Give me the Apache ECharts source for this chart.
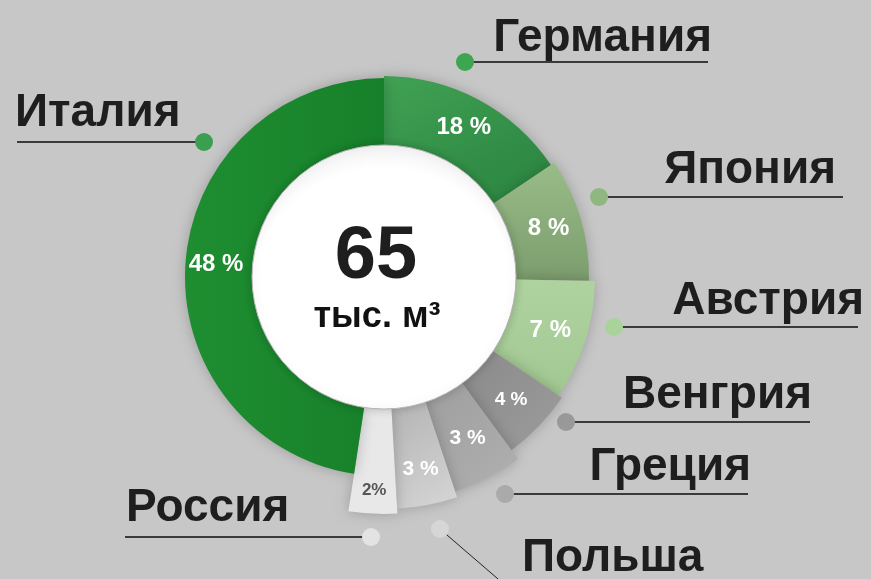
<!DOCTYPE html>
<html>
<head>
<meta charset="utf-8">
<script src="https://cdn.jsdelivr.net/npm/echarts@6/dist/echarts.min.js"></script>
<style>
  html, body { margin: 0; padding: 0; background: #c7c7c7; }
  #chart { width: 871px; height: 579px; }
</style>
</head>
<body>
<div id="chart"></div>
<script>
// данные (по часовой стрелке от 12 часов)
var countries = ['Германия', 'Япония', 'Австрия', 'Венгрия', 'Греция', 'Польша', 'Россия', 'Италия'];
var shares = [15.6, 9.7, 9.2, 5.4, 5.0, 4.2, 3.3, 47.6];   // доля круга, как нарисовано
var pctLabels = ['18 %', '8 %', '7 %', '4 %', '3 %', '3 %', '2%', '48 %'];
var total = '65';
var unit = 'тыс. м³';

// оформление
var center = [384, 277];
var innerR = 132;
var outerR = [201, 205, 211, 215, 226, 232, 237, 199];
function grad(x, y, x2, y2, c1, c2) {
    return new echarts.graphic.LinearGradient(x, y, x2, y2, [{ offset: 0, color: c1 }, { offset: 1, color: c2 }]);
}
var fills = [
    grad(0, 0, 0.4, 1, '#40a153', '#2f8a44'),
    grad(0, 0, 0, 1, '#98bc88', '#7c9d6d'),
    grad(0, 0, 0, 1, '#afd39f', '#a2c892'),
    grad(0, 0, 1, 1, '#8a8a8a', '#9c9c9c'),
    grad(0, 0, 1, 1, '#9e9e9e', '#b0b0b0'),
    grad(0, 0, 1, 1, '#b4b4b4', '#d6d6d6'),
    '#e8e8e8',
    grad(0, 0, 1, 0, '#1e8e31', '#17802a')
];
var pctSize = [24, 24, 24, 19, 21, 21, 17, 24];
var pctColor = ['#fff', '#fff', '#fff', '#fff', '#fff', '#fff', '#555', '#fff'];
var pctShift = [[0, 0], [0, 0], [0, 0], [0, 0], [0, 0], [2, 10], [-1, 26], [0, 0]];
var dotColors = ['#3da650', '#8fb77f', '#a9d39a', '#999999', '#aaaaaa', '#d6d6d6', '#e3e3e3', '#3a9f4e'];
// подписи стран: точка, конец линии, базовая линия текста
var callouts = {
    'Германия': { dot: [465, 62], end: [708, 62], text: [712, 54], align: 'right' },
    'Италия':   { dot: [204, 142], end: [17, 142], text: [15, 129], align: 'left' },
    'Япония':   { dot: [599, 197], end: [843, 197], text: [836, 186], align: 'right' },
    'Австрия':  { dot: [614, 327], end: [858, 327], text: [864, 317], align: 'right' },
    'Венгрия':  { dot: [566, 422], end: [810, 422], text: [812, 411], align: 'right' },
    'Греция':   { dot: [505, 494], end: [748, 494], text: [751, 483], align: 'right' },
    'Польша':   { dot: [440, 529], end: [505, 585], text: [522, 574], align: 'left', thin: true },
    'Россия':   { dot: [371, 537], end: [125, 537], text: [126, 524], align: 'left' }
};

var series = [];
countries.forEach(function (c, i) {
    series.push({
        type: 'pie',
        name: c,
        center: center,
        radius: [innerR, outerR[i]],
        startAngle: 90,
        avoidLabelOverlap: false,
        silent: true,
        animation: false,
        labelLine: { show: false },
        labelLayout: { dx: pctShift[i][0], dy: pctShift[i][1] },
        data: countries.map(function (n, j) {
            var on = j === i;
            return {
                name: n,
                value: shares[j],
                itemStyle: on ? {
                    color: fills[i],
                    shadowBlur: 14,
                    shadowColor: 'rgba(0,0,0,0.22)'
                } : { color: 'rgba(0,0,0,0)' },
                label: on ? {
                    show: true,
                    position: 'inside',
                    formatter: pctLabels[i],
                    color: pctColor[i],
                    fontSize: pctSize[i],
                    fontWeight: 'bold',
                    fontFamily: 'Liberation Sans'
                } : { show: false }
            };
        })
    });
});

// белый круг в центре
series.push({
    type: 'pie',
    center: center,
    radius: [0, innerR],
    silent: true,
    animation: false,
    labelLine: { show: false },
    data: [{
        value: 1,
        name: 'total',
        itemStyle: {
            color: new echarts.graphic.RadialGradient(0.5, 0.6, 0.6, [{ offset: 0, color: '#ffffff' }, { offset: 0.85, color: '#ffffff' }, { offset: 1, color: '#f2f2f2' }]),
            borderColor: '#b5b5b5',
            borderWidth: 1,
            shadowBlur: 10,
            shadowColor: 'rgba(0,0,0,0.2)'
        },
        label: {
            show: true,
            position: 'center',
            formatter: '{a|' + total + '}\n{b|' + unit + '}',
            rich: {
                a: { fontSize: 74, fontWeight: 'bold', color: '#1e1e1e', fontFamily: 'Liberation Sans', lineHeight: 80, padding: [6, 16, 2, 0] },
                b: { fontSize: 36, fontWeight: 'bold', color: '#111', fontFamily: 'Liberation Sans', lineHeight: 42, padding: [0, 14, 0, 0] }
            }
        }
    }]
});

var graphics = [];
countries.forEach(function (c, i) {
    var p = callouts[c];
    graphics.push({
        type: 'line',
        silent: true,
        shape: { x1: p.dot[0], y1: p.dot[1], x2: p.end[0], y2: p.end[1] },
        style: { stroke: p.thin ? '#222' : '#3a3a3a', lineWidth: p.thin ? 1 : 2 }
    });
    graphics.push({
        type: 'circle',
        silent: true,
        shape: { cx: p.dot[0], cy: p.dot[1], r: 9 },
        style: { fill: dotColors[i] }
    });
    graphics.push({
        type: 'text',
        silent: true,
        x: p.text[0],
        y: p.text[1] - 16,
        style: {
            text: c,
            fill: '#1e1e1e',
            font: 'bold 46px "Liberation Sans"',
            textAlign: p.align,
            textVerticalAlign: 'middle'
        }
    });
});

var myChart = echarts.init(document.getElementById('chart'));
myChart.setOption({
    backgroundColor: '#c7c7c7',
    series: series,
    graphic: graphics
});
window.addEventListener('resize', function () {
    myChart.resize();
});
</script>
</body>
</html>
